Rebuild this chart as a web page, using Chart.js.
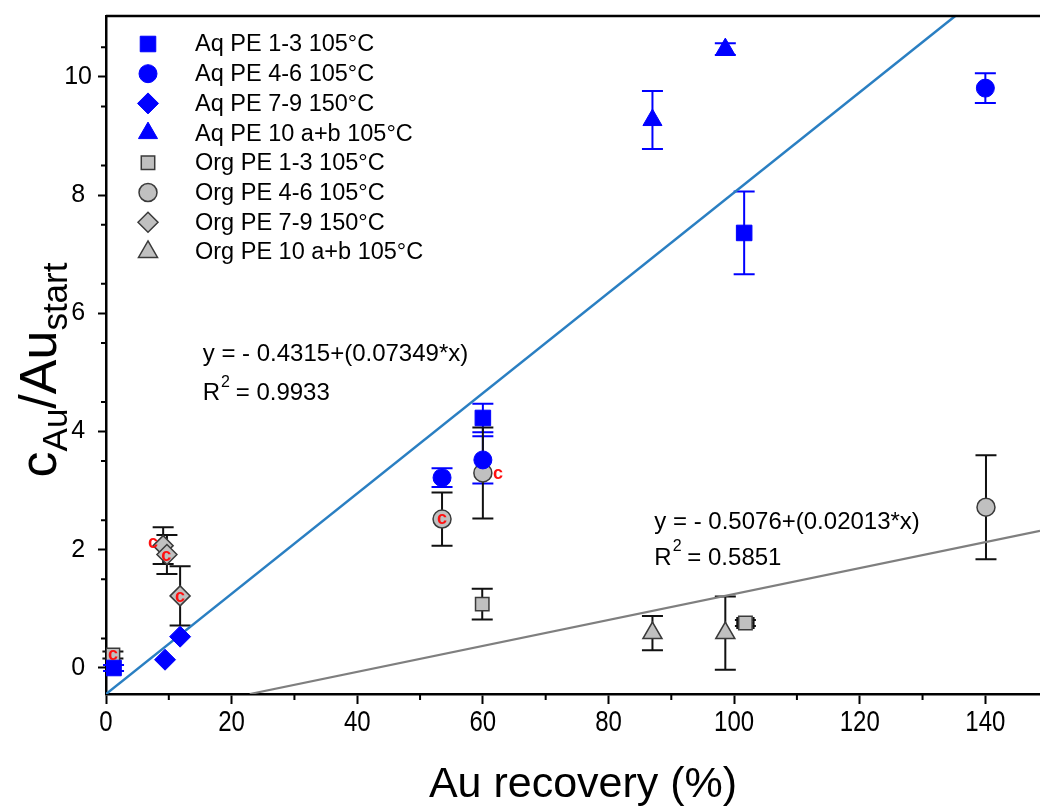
<!DOCTYPE html>
<html>
<head>
<meta charset="utf-8">
<script src="https://cdn.jsdelivr.net/npm/chart.js@4.4.0/dist/chart.umd.min.js"></script>
<style>
  html, body { margin: 0; padding: 0; background: #fff; }
  #wrap { width: 1040px; height: 807px; }
</style>
</head>
<body>
<div id="wrap"><canvas id="chart" width="1040" height="807"></canvas></div>
<script>
// values
const seriesNames = [
  'Aq PE 1-3 105°C', 'Aq PE 4-6 105°C', 'Aq PE 7-9 150°C', 'Aq PE 10 a+b 105°C',
  'Org PE 1-3 105°C', 'Org PE 4-6 105°C', 'Org PE 7-9 150°C', 'Org PE 10 a+b 105°C'
];

const aq13X = [1.2, 60.0, 101.6];
const aq13Y = [0.0, 4.23, 7.36];
const aq13Err = [0.05, 0.24, 0.70];

const aq46X = [53.5, 60.0, 140.0];
const aq46Y = [3.22, 3.52, 9.81];
const aq46Err = [0.16, 0.40, 0.25];

const aq79X = [9.4, 11.8];
const aq79Y = [0.14, 0.53];
const aq79Err = [0, 0];

const aq10X = [87.0, 98.6];
const aq10Y = [9.27, 10.47];
const aq10Err = [0.49, 0.10];

const org13X = [1.1, 59.9, 101.8];
const org13Y = [0.22, 1.08, 0.76];
const org13Err = [0.06, 0.26, 0.05];
const org13XErr = [0, 0, 1.3];

const org46X = [53.5, 60.0, 140.1];
const org46Y = [2.52, 3.30, 2.72];
const org46Err = [0.45, 0.77, 0.88];

const org79X = [9.1, 9.7, 11.8];
const org79Y = [2.07, 1.92, 1.22];
const org79Err = [0.31, 0.33, 0.50];

const org10X = [87.0, 98.6];
const org10Y = [0.59, 0.59];
const org10Err = [0.29, 0.62];

// fitted lines, as drawn
const fitAqX = [0, 135.2];
const fitAqY = [-0.44, 11.03];
const fitOrgX = [22.9, 148.7];
const fitOrgY = [-0.44, 2.32];

// red "c" markers
const cLabelX = [1.1, 7.5, 9.6, 11.8, 53.5, 62.4];
const cLabelY = [0.22, 2.12, 1.90, 1.20, 2.52, 3.28];

// regression text
const eqText = ['y = - 0.4315+(0.07349*x)', 'y = - 0.5076+(0.02013*x)'];
const r2Text = ['0.9933', '0.5851'];
const eqX = [15.4, 87.3];
const eqY = [5.30, 2.47];
const r2Y = [4.65, 1.86];

const xTicks = [0, 20, 40, 60, 80, 100, 120, 140];
const yTicks = [0, 2, 4, 6, 8, 10];

const BLUE = '#0000ff';
const GREY = '#c0c0c0';
const DARK = '#3a3a3a';

const seriesStyle = [
  { shape: 'rect', r: 11, fill: BLUE, line: BLUE, bw: 1 },
  { shape: 'circle', r: 9, fill: BLUE, line: BLUE, bw: 1 },
  { shape: 'rectRot', r: 10.5, fill: BLUE, line: BLUE, bw: 1 },
  { shape: 'triangle', r: 11, fill: BLUE, line: BLUE, bw: 1 },
  { shape: 'rect', r: 9.5, fill: GREY, line: DARK, bw: 1.5 },
  { shape: 'circle', r: 9, fill: GREY, line: DARK, bw: 1.5 },
  { shape: 'rectRot', r: 10, fill: GREY, line: DARK, bw: 1.5 },
  { shape: 'triangle', r: 11, fill: GREY, line: DARK, bw: 1.5 }
];
const errColor = [BLUE, BLUE, BLUE, BLUE, '#111', '#111', '#111', '#111'];

const allX = [aq13X, aq46X, aq79X, aq10X, org13X, org46X, org79X, org10X];
const allY = [aq13Y, aq46Y, aq79Y, aq10Y, org13Y, org46Y, org79Y, org10Y];
const allErr = [aq13Err, aq46Err, aq79Err, aq10Err, org13Err, org46Err, org79Err, org10Err];
const allXErr = [null, null, null, null, org13XErr, null, null, null];

const zip = (xs, ys) => xs.map((x, i) => ({ x: x, y: ys[i] }));

const datasets = seriesNames.map((name, i) => ({
  label: name,
  data: zip(allX[i], allY[i]),
  pointStyle: seriesStyle[i].shape,
  pointRadius: seriesStyle[i].r,
  backgroundColor: seriesStyle[i].fill,
  borderColor: seriesStyle[i].line,
  pointBorderWidth: seriesStyle[i].bw,
  showLine: false
}));

datasets.push({
  label: 'fit aq', data: zip(fitAqX, fitAqY), showLine: true, pointRadius: 0,
  borderColor: '#2a7fc2', borderWidth: 2.5
});
datasets.push({
  label: 'fit org', data: zip(fitOrgX, fitOrgY), showLine: true, pointRadius: 0,
  borderColor: '#7f7f7f', borderWidth: 2.2
});

const FONT = '"Liberation Sans", Arial, sans-serif';

const errorBars = {
  id: 'errorBars',
  beforeDatasetsDraw(chart) {
    const { ctx, scales: { x, y } } = chart;
    ctx.save();
    ctx.lineWidth = 2;
    for (let i = 0; i < seriesNames.length; i++) {
      ctx.strokeStyle = errColor[i];
      allX[i].forEach((vx, j) => {
        const e = allErr[i][j];
        const px = x.getPixelForValue(vx);
        const py = y.getPixelForValue(allY[i][j]);
        if (e > 0) {
          const top = y.getPixelForValue(allY[i][j] + e);
          const bot = y.getPixelForValue(allY[i][j] - e);
          ctx.beginPath();
          ctx.moveTo(px, top); ctx.lineTo(px, bot);
          ctx.moveTo(px - 10.5, top); ctx.lineTo(px + 10.5, top);
          ctx.moveTo(px - 10.5, bot); ctx.lineTo(px + 10.5, bot);
          ctx.stroke();
        }
        const xe = allXErr[i] ? allXErr[i][j] : 0;
        if (xe > 0) {
          const l = x.getPixelForValue(vx - xe);
          const r = x.getPixelForValue(vx + xe);
          ctx.beginPath();
          ctx.moveTo(l, py); ctx.lineTo(r, py);
          ctx.moveTo(l, py - 6); ctx.lineTo(l, py + 6);
          ctx.moveTo(r, py - 6); ctx.lineTo(r, py + 6);
          ctx.stroke();
        }
      });
    }
    ctx.restore();
  }
};

const decorations = {
  id: 'decorations',
  afterDatasetsDraw(chart) {
    const { ctx, scales: { x, y } } = chart;
    ctx.save();
    // red c labels
    ctx.fillStyle = '#ff1010';
    ctx.font = 'bold 18px ' + FONT;
    ctx.textAlign = 'center';
    ctx.textBaseline = 'middle';
    cLabelX.forEach((vx, i) => {
      ctx.fillText('c', x.getPixelForValue(vx), y.getPixelForValue(cLabelY[i]));
    });
    // regression equations
    ctx.fillStyle = '#000';
    ctx.textAlign = 'left';
    ctx.textBaseline = 'middle';
    eqText.forEach((t, i) => {
      const px = x.getPixelForValue(eqX[i]);
      ctx.font = '24px ' + FONT;
      ctx.fillText(t, px, y.getPixelForValue(eqY[i]));
      const ry = y.getPixelForValue(r2Y[i]);
      ctx.fillText('R', px, ry);
      const rw = ctx.measureText('R').width;
      ctx.font = '16px ' + FONT;
      ctx.fillText('2', px + rw + 1, ry - 11);
      ctx.font = '24px ' + FONT;
      ctx.fillText(' = ' + r2Text[i], px + rw + 9, ry);
    });
    ctx.restore();
  },
  afterDraw(chart) {
    const { ctx, chartArea: a, scales: { x, y } } = chart;
    ctx.save();
    // top frame line
    ctx.strokeStyle = '#000';
    ctx.lineWidth = 2.5;
    ctx.beginPath();
    ctx.moveTo(a.left, a.top); ctx.lineTo(a.right, a.top);
    ctx.stroke();
    // minor ticks
    ctx.lineWidth = 2;
    ctx.beginPath();
    for (let v = 10; v < x.max; v += 20) {
      const px = x.getPixelForValue(v);
      ctx.moveTo(px, a.bottom); ctx.lineTo(px, a.bottom + 6);
    }
    for (let v = 0.5; v < y.max; v += 1) {
      const py = y.getPixelForValue(v);
      ctx.moveTo(a.left, py); ctx.lineTo(a.left - 5, py);
    }
    ctx.stroke();

    // x tick labels, narrow face
    ctx.fillStyle = '#000';
    ctx.textAlign = 'center';
    ctx.textBaseline = 'middle';
    ctx.font = '30px ' + FONT;
    xTicks.forEach(v => {
      const px = x.getPixelForValue(v);
      ctx.save();
      ctx.translate(px, 723);
      ctx.scale(0.8, 1);
      ctx.fillText(String(v), 0, 0);
      ctx.restore();
    });

    // legend
    const lx = 148, tx = 195, ly0 = 44, dy = 29.7;
    seriesNames.forEach((name, i) => {
      const s = seriesStyle[i];
      const ly = ly0 + i * dy;
      ctx.fillStyle = s.fill;
      ctx.strokeStyle = s.line;
      ctx.lineWidth = s.bw;
      Chart.helpers.drawPoint(ctx, { pointStyle: s.shape, rotation: 0, radius: s.r, borderWidth: s.bw }, lx, ly);
      ctx.fillStyle = '#000';
      ctx.font = '23.5px ' + FONT;
      ctx.textAlign = 'left';
      ctx.textBaseline = 'middle';
      ctx.fillText(name, tx, ly + 1);
    });

    // x title
    ctx.fillStyle = '#000';
    ctx.font = '43px ' + FONT;
    ctx.textAlign = 'center';
    ctx.textBaseline = 'alphabetic';
    ctx.fillText('Au recovery (%)', 583, 797);

    // y title with subscripts
    const parts = [
      { t: 'c', size: 52, dy: 0 },
      { t: 'Au', size: 35, dy: 11 },
      { t: '/Au', size: 52, dy: 0 },
      { t: 'start', size: 35, dy: 11 }
    ];
    let total = 0;
    parts.forEach(p => {
      ctx.font = p.size + 'px ' + FONT;
      p.w = ctx.measureText(p.t).width;
      total += p.w;
    });
    ctx.translate(56, 370);
    ctx.rotate(-Math.PI / 2);
    ctx.textAlign = 'left';
    let cx = -total / 2;
    parts.forEach(p => {
      ctx.font = p.size + 'px ' + FONT;
      ctx.fillText(p.t, cx, p.dy);
      cx += p.w;
    });
    ctx.restore();
  }
};

new Chart(document.getElementById('chart'), {
  type: 'scatter',
  data: { datasets: datasets },
  options: {
    responsive: false,
    animation: false,
    events: [],
    layout: { autoPadding: false, padding: { top: 16, right: 0, left: 0, bottom: 0 } },
    plugins: {
      legend: { display: false },
      tooltip: { enabled: false }
    },
    scales: {
      x: {
        type: 'linear',
        min: 0,
        max: 148.7,
        afterFit(scale) {
          scale.height = 113;
          scale.paddingLeft = 0;
          scale.paddingRight = 0;
        },
        afterBuildTicks(scale) { scale.ticks = xTicks.map(v => ({ value: v })); },
        border: { color: '#000', width: 2.5 },
        grid: { drawOnChartArea: false, drawTicks: true, tickLength: 10, tickWidth: 2, tickColor: '#000' },
        ticks: { display: false }
      },
      y: {
        type: 'linear',
        min: -0.44,
        max: 11.03,
        afterFit(scale) {
          scale.width = 106;
          scale.paddingTop = 0;
          scale.paddingBottom = 0;
        },
        afterBuildTicks(scale) { scale.ticks = yTicks.map(v => ({ value: v })); },
        border: { color: '#000', width: 2.5 },
        grid: { drawOnChartArea: false, drawTicks: true, tickLength: 8, tickWidth: 2, tickColor: '#000' },
        ticks: {
          color: '#000',
          padding: 6,
          crossAlign: 'center',
          font: { family: FONT, size: 25 }
        }
      }
    }
  },
  plugins: [errorBars, decorations]
});
</script>
</body>
</html>
